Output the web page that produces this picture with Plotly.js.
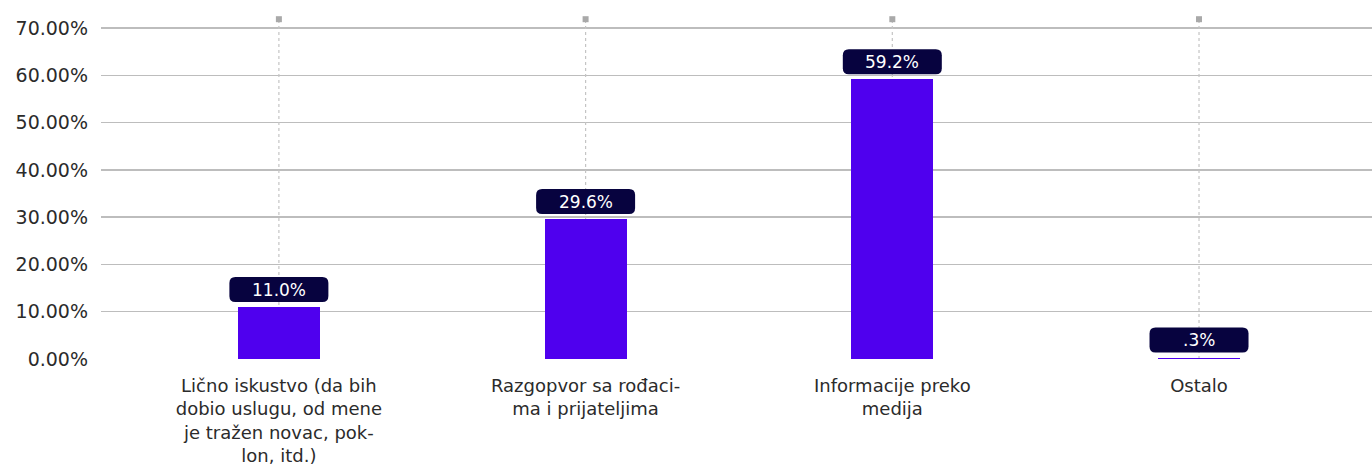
<!DOCTYPE html>
<html><head><meta charset="utf-8">
<script src="https://cdn.plot.ly/plotly-3.0.1.min.js"></script>
<style>html,body{margin:0;padding:0;background:#fff}#chart{width:1372px;height:475px}</style>
</head><body><div id="chart"></div>
<script>
const categories = [
  "Lično iskustvo (da bih<br>dobio uslugu, od mene<br>je tražen novac, pok-<br>lon, itd.)",
  "Razgopvor sa rođaci-<br>ma i prijateljima",
  "Informacije preko<br>medija",
  "Ostalo"
];
const values = [11.0, 29.6, 59.2, 0.3];
const valueLabels = ["11.0%", "29.6%", "59.2%", ".3%"];
const yTicks = [0, 10, 20, 30, 40, 50, 60, 70];
const yTickText = ["0.00%", "10.00%", "20.00%", "30.00%", "40.00%", "50.00%", "60.00%", "70.00%"];
const guideTop = 71.9;

const FONT = "DejaVu Sans, sans-serif";
const xIdx = categories.map((c, i) => i);

const traces = [
  {
    type: "bar", x: xIdx, y: values, width: 0.267,
    marker: {color: "#4F00EE"}, hoverinfo: "skip", showlegend: false
  },
  {
    type: "scatter", x: xIdx, y: xIdx.map(() => guideTop), mode: "markers",
    marker: {symbol: "square", size: 6, color: "#a9a9a9"},
    hoverinfo: "skip", showlegend: false, cliponaxis: false
  }
];

const w = 99, h = 25, r = 6, base = 5;
function rrect() {
  const x0 = -w/2, x1 = w/2, y0 = base, y1 = base + h;
  return `M ${x0+r} ${y0} L ${x1-r} ${y0} Q ${x1} ${y0} ${x1} ${y0+r} L ${x1} ${y1-r} Q ${x1} ${y1} ${x1-r} ${y1} L ${x0+r} ${y1} Q ${x0} ${y1} ${x0} ${y1-r} L ${x0} ${y0+r} Q ${x0} ${y0} ${x0+r} ${y0} Z`;
}
const guideShapes = xIdx.map(i => ({
  type: "line", xref: "x", yref: "y", x0: i, x1: i, y0: 0, y1: guideTop,
  line: {color: "#c4c4c4", width: 1.2, dash: "dot"}, layer: "between"
}));
const boxShapes = values.map((v, i) => ({
  type: "path", xref: "x", yref: "y", xsizemode: "pixel", ysizemode: "pixel",
  xanchor: i, yanchor: v, path: rrect(),
  fillcolor: "#07033F", line: {color: "#07033F", width: 0}, layer: "above"
}));
const annotations = values.map((v, i) => ({
  x: i, y: v, xref: "x", yref: "y", text: valueLabels[i], showarrow: false,
  yshift: base + h/2, font: {family: FONT, size: 17, color: "#ffffff"}
}));

const layout = {
  width: 1372, height: 475,
  margin: {l: 101, r: 0, t: 14, b: 116},
  paper_bgcolor: "#ffffff", plot_bgcolor: "#ffffff",
  font: {family: FONT, color: "#2b2b2b"},
  xaxis: {
    type: "linear", range: [-0.58, 3.564], tickvals: xIdx, ticktext: categories,
    showgrid: false, zeroline: false, showline: false, ticks: "", ticklabelstandoff: 14,
    tickfont: {family: FONT, size: 18, color: "#2b2b2b"}, fixedrange: true
  },
  yaxis: {
    range: [0, 73], tickvals: yTicks, ticktext: yTickText,
    showgrid: true, gridcolor: "#bdbdbd", gridwidth: 1.5,
    zeroline: false, showline: false, ticks: "", ticklabelstandoff: 12,
    tickfont: {family: FONT, size: 19, color: "#2b2b2b"}, fixedrange: true
  },
  shapes: guideShapes.concat(boxShapes), annotations: annotations, bargap: 0
};
Plotly.newPlot("chart", traces, layout, {displayModeBar: false, staticPlot: true});
</script></body></html>
